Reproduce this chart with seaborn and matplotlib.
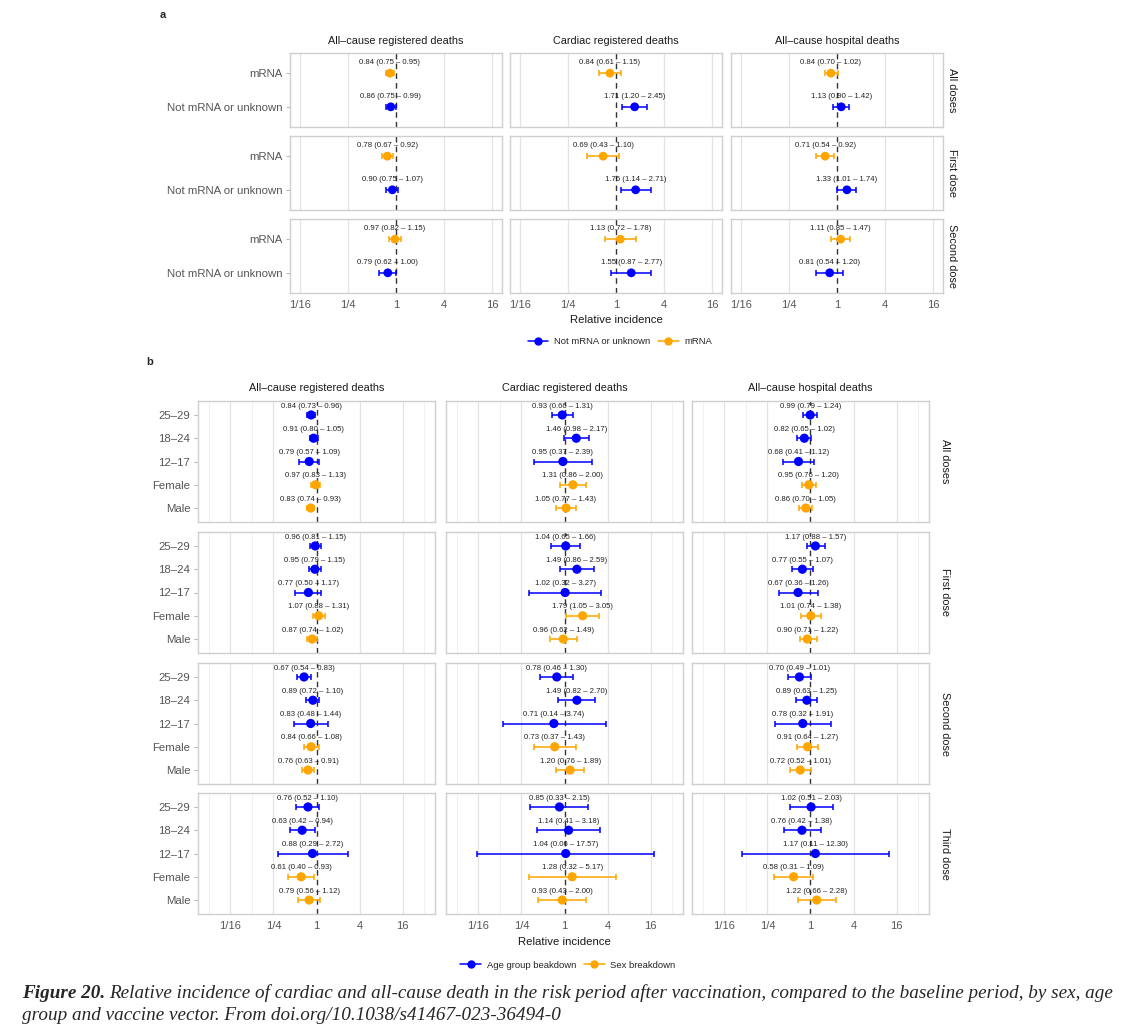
import matplotlib
matplotlib.use("Agg")
import matplotlib.pyplot as plt
from matplotlib.lines import Line2D
import numpy as np
import pandas as pd
import seaborn as sns

# ---- data, panel a (rows: dose x group) ----
A_METRICS = ["All\u2013cause registered deaths", "Cardiac registered deaths", "All\u2013cause hospital deaths"]
A_DOSES = ["All doses", "First dose", "Second dose"]
A_GROUPS = ["mRNA", "Not mRNA or unknown"]

a_allcause_est = [0.84, 0.86, 0.78, 0.90, 0.97, 0.79]
a_allcause_lo = [0.75, 0.75, 0.67, 0.75, 0.82, 0.62]
a_allcause_hi = [0.95, 0.99, 0.92, 1.07, 1.15, 1.00]
a_cardiac_est = [0.84, 1.71, 0.69, 1.76, 1.13, 1.55]
a_cardiac_lo = [0.61, 1.20, 0.43, 1.14, 0.72, 0.87]
a_cardiac_hi = [1.15, 2.45, 1.10, 2.71, 1.78, 2.77]
a_hosp_est = [0.84, 1.13, 0.71, 1.33, 1.11, 0.81]
a_hosp_lo = [0.70, 0.90, 0.54, 1.01, 0.85, 0.54]
a_hosp_hi = [1.02, 1.42, 0.92, 1.74, 1.47, 1.20]

# ---- data, panel b (rows: dose x group) ----
B_DOSES = ["All doses", "First dose", "Second dose", "Third dose"]
B_GROUPS = ["25\u201329", "18\u201324", "12\u201317", "Female", "Male"]
B_KIND = ["Age", "Age", "Age", "Sex", "Sex"]

b_allcause_est = [0.84, 0.91, 0.79, 0.97, 0.83, 0.96, 0.95, 0.77, 1.07, 0.87,
                  0.67, 0.89, 0.83, 0.84, 0.76, 0.76, 0.63, 0.88, 0.61, 0.79]
b_allcause_lo = [0.73, 0.80, 0.57, 0.83, 0.74, 0.81, 0.79, 0.50, 0.88, 0.74,
                 0.54, 0.72, 0.48, 0.66, 0.63, 0.52, 0.42, 0.29, 0.40, 0.56]
b_allcause_hi = [0.96, 1.05, 1.09, 1.13, 0.93, 1.15, 1.15, 1.17, 1.31, 1.02,
                 0.83, 1.10, 1.44, 1.08, 0.91, 1.10, 0.94, 2.72, 0.93, 1.12]
b_cardiac_est = [0.93, 1.46, 0.95, 1.31, 1.05, 1.04, 1.49, 1.02, 1.79, 0.96,
                 0.78, 1.49, 0.71, 0.73, 1.20, 0.85, 1.14, 1.04, 1.28, 0.93]
b_cardiac_lo = [0.66, 0.98, 0.37, 0.86, 0.77, 0.65, 0.86, 0.32, 1.05, 0.62,
                0.46, 0.82, 0.14, 0.37, 0.76, 0.33, 0.41, 0.06, 0.32, 0.43]
b_cardiac_hi = [1.31, 2.17, 2.39, 2.00, 1.43, 1.66, 2.59, 3.27, 3.05, 1.49,
                1.30, 2.70, 3.74, 1.43, 1.89, 2.15, 3.18, 17.57, 5.17, 2.00]
b_hosp_est = [0.99, 0.82, 0.68, 0.95, 0.86, 1.17, 0.77, 0.67, 1.01, 0.90,
              0.70, 0.89, 0.78, 0.91, 0.72, 1.02, 0.76, 1.17, 0.58, 1.22]
b_hosp_lo = [0.79, 0.65, 0.41, 0.76, 0.70, 0.88, 0.55, 0.36, 0.74, 0.71,
             0.49, 0.63, 0.32, 0.64, 0.52, 0.51, 0.42, 0.11, 0.31, 0.66]
b_hosp_hi = [1.24, 1.02, 1.12, 1.20, 1.05, 1.57, 1.07, 1.26, 1.38, 1.22,
             1.01, 1.25, 1.91, 1.27, 1.01, 2.03, 1.38, 12.30, 1.09, 2.28]

TICKS = [1/16, 1/4, 1, 4, 16]
TICK_LABELS = ["1/16", "1/4", "1", "4", "16"]

BLUE = "#0000ff"
ORANGE = "#ffa500"

sns.set_theme(style="white")
plt.rcParams["font.family"] = ["Liberation Sans", "DejaVu Sans"]

W, H = 1122, 1031
fig = plt.figure(figsize=(W / 100, H / 100), dpi=100)


def px(x, y):
    return x / W, 1 - y / H


def add_ax(left, top, width, height):
    return fig.add_axes([left / W, 1 - (top + height) / H, width / W, height / H])


def build(metrics, doses, groups, series, colors):
    rows = []
    for m, (est, lo, hi) in zip(metrics, series):
        k = 0
        for d in doses:
            for i, g in enumerate(groups):
                rows.append(dict(metric=m, dose=d, group=g, ypos=i,
                                 color=colors[i], est=est[k], lo=lo[k], hi=hi[k]))
                k += 1
    return pd.DataFrame(rows)


def draw(ax, sub, xexp, lab_off, msize, minor):
    lo_x, hi_x = 2.0 ** -xexp, 2.0 ** xexp
    ax.set_xscale("log", base=2)
    ax.set_xlim(lo_x, hi_x)
    for t in TICKS:
        if t != 1:
            ax.axvline(t, color="#e3e3e3", lw=0.9, zorder=0)
    for t in minor:
        ax.axvline(2.0 ** t, color="#efefef", lw=0.6, zorder=0)
    ax.axvline(1, color="#333333", lw=1.0, ls=(0, (4, 3)), zorder=1)
    for _, r in sub.iterrows():
        ax.errorbar(r.est, r.ypos, xerr=[[r.est - r.lo], [r.hi - r.est]], fmt="none",
                    ecolor=r.color, elinewidth=1.1, capsize=2.3, capthick=1.1, zorder=2)
        ax.text(r.est, r.ypos - lab_off, f"{r.est:.2f} ({r.lo:.2f} \u2013 {r.hi:.2f})",
                ha="center", va="center", fontsize=5.6, color="#222222", zorder=4)
    sns.scatterplot(data=sub, x="est", y="ypos", hue="color", palette={BLUE: BLUE, ORANGE: ORANGE},
                    s=msize, edgecolor="none", legend=False, ax=ax, zorder=3)
    n = sub["ypos"].max() + 1
    ax.set_ylim(n - 1 + 0.6, -0.6)
    ax.set_xlabel("")
    ax.set_ylabel("")
    ax.grid(False)
    for sp in ax.spines.values():
        sp.set_color("#cfcfcf")
        sp.set_linewidth(1.0)
    ax.set_xticks(TICKS)
    ax.minorticks_off()
    ax.set_xticklabels(TICK_LABELS)
    ax.tick_params(axis="x", length=0, pad=5, labelsize=8, labelcolor="#555555")
    ax.tick_params(axis="y", length=3, width=0.8, color="#bbbbbb", pad=2.5,
                   labelsize=8.2, labelcolor="#555555", left=True)


def facet(df, metrics, doses, groups, lefts, width, tops, height, xexp, lab_off, msize,
          minor, title_y, strip_x):
    for ci, m in enumerate(metrics):
        cx = lefts[ci] + width / 2
        fig.text(*px(cx, title_y), m, ha="center", va="center", fontsize=7.8, color="#1a1a1a")
        for ri, d in enumerate(doses):
            ax = add_ax(lefts[ci], tops[ri], width, height)
            sub = df[(df.metric == m) & (df.dose == d)]
            draw(ax, sub, xexp, lab_off, msize, minor)
            ax.set_yticks(range(len(groups)))
            if ci == 0:
                ax.set_yticklabels(groups)
            else:
                ax.set_yticklabels([])
                ax.tick_params(axis="y", length=0)
            if ri != len(doses) - 1:
                ax.set_xticklabels([])
            if ci == len(metrics) - 1:
                fig.text(*px(strip_x, tops[ri] + height / 2), d, rotation=-90, ha="center",
                         va="center", fontsize=7.8, color="#1a1a1a")


# ---- panel a ----
dfa = build(A_METRICS, A_DOSES, A_GROUPS,
            [(a_allcause_est, a_allcause_lo, a_allcause_hi),
             (a_cardiac_est, a_cardiac_lo, a_cardiac_hi),
             (a_hosp_est, a_hosp_lo, a_hosp_hi)],
            [ORANGE, BLUE])
facet(dfa, A_METRICS, A_DOSES, A_GROUPS, [290, 510, 731], 212, [53, 136, 219], 74,
      4.4, 0.31, 40, [], 41, 952)
fig.text(*px(163, 15), "a", fontsize=8, fontweight="bold", ha="center", va="center")
fig.text(*px(616, 320), "Relative incidence", fontsize=8.2, ha="center", va="center", color="#1a1a1a")
fig.legend([Line2D([], [], color=BLUE, marker="o", ms=5, lw=1.1),
            Line2D([], [], color=ORANGE, marker="o", ms=5, lw=1.1)],
           ["Not mRNA or unknown", "mRNA"], loc="center", bbox_to_anchor=px(620, 342),
           ncol=2, frameon=False, fontsize=6.8, handlelength=2.2, columnspacing=0.8,
           handletextpad=0.6)

# ---- panel b ----
dfb = build(A_METRICS, B_DOSES, B_GROUPS,
            [(b_allcause_est, b_allcause_lo, b_allcause_hi),
             (b_cardiac_est, b_cardiac_lo, b_cardiac_hi),
             (b_hosp_est, b_hosp_lo, b_hosp_hi)],
            [BLUE if k == "Age" else ORANGE for k in B_KIND])
facet(dfb, A_METRICS, B_DOSES, B_GROUPS, [198, 446, 692], 237, [401, 532, 663, 793], 121,
      5.5, 0.38, 44, [-5, -3, 5], 388, 945)
fig.text(*px(150, 362), "b", fontsize=8, fontweight="bold", ha="center", va="center")
fig.text(*px(564, 942), "Relative incidence", fontsize=8.2, ha="center", va="center", color="#1a1a1a")
fig.legend([Line2D([], [], color=BLUE, marker="o", ms=5, lw=1.1),
            Line2D([], [], color=ORANGE, marker="o", ms=5, lw=1.1)],
           ["Age group beakdown", "Sex breakdown"], loc="center", bbox_to_anchor=px(568, 965),
           ncol=2, frameon=False, fontsize=6.8, handlelength=2.2, columnspacing=0.8,
           handletextpad=0.6)

# ---- caption ----
serif = ["Liberation Serif", "DejaVu Serif"]
cap_size = 13.75
t0 = fig.text(*px(22, 993), "Figure 20.", fontsize=cap_size, family=serif, style="italic",
              fontweight="bold", va="center", ha="left")
fig.canvas.draw()
bb = t0.get_window_extent()
fig.text((bb.x1 + 4) / W, 1 - 993 / H,
         "Relative incidence of cardiac and all-cause death in the risk period after vaccination, "
         "compared to the baseline period, by sex, age",
         fontsize=cap_size, family=serif, style="italic", va="center", ha="left")
fig.text(*px(22, 1015), "group and vaccine vector. From doi.org/10.1038/s41467-023-36494-0",
         fontsize=cap_size, family=serif, style="italic", va="center", ha="left")

fig.savefig("out.png", dpi=100)
